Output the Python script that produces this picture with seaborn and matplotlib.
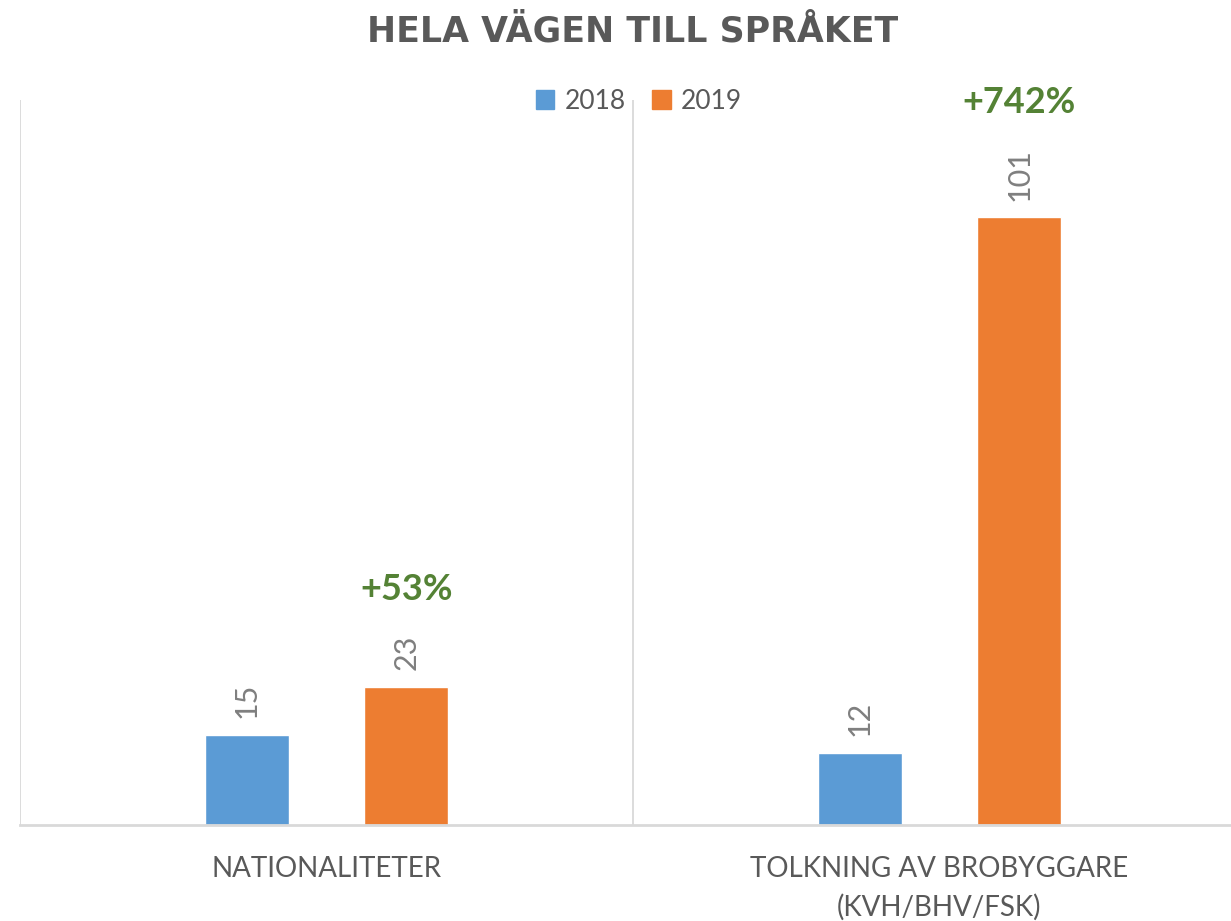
import matplotlib
matplotlib.use("Agg")
import matplotlib.pyplot as plt
import seaborn as sns
import pandas as pd

# 데이터
categories = ["NATIONALITETER", "TOLKNING AV BROBYGGARE\n(KVH/BHV/FSK)"]
years = ["2018", "2019"]
values_2018 = [15, 12]
values_2019 = [23, 101]

df = pd.DataFrame({
    "kategori": categories * 2,
    "år": [years[0]] * 2 + [years[1]] * 2,
    "antal": values_2018 + values_2019,
})

sns.set_theme(style="white")
plt.rcParams['font.family'] = ['Lato', 'DejaVu Sans']

fig = plt.figure(figsize=(12.31, 9.21), dpi=100)
ax = fig.add_axes([20 / 1231, 1 - 825 / 921, 1226 / 1231, 725 / 921])

sns.barplot(data=df, x="kategori", y="antal", hue="år", order=categories,
            hue_order=years, palette=["#5b9bd5", "#ed7d31"], saturation=1,
            width=0.52, gap=0.47, ax=ax, legend=False)

for cont in ax.containers:
    ax.bar_label(cont, rotation=90, padding=12, fontsize=22, color="#7f7f7f")

ax.set_xlim(-0.5, 1.5)
ax.set_ylim(0, 120.5)

# 증가율 (+53%, +742%) - 값 라벨 위에 배치
for i in range(len(categories)):
    v = values_2019[i]
    pct = (v - values_2018[i]) / values_2018[i] * 100
    off = 12 + 12.7 * len(str(v)) + 21
    ax.annotate(f"+{pct:.0f}%", xy=(i + 0.13, v), xytext=(0, off),
                textcoords="offset points", ha="center", va="bottom",
                fontsize=26, fontweight="bold", color="#548235", annotation_clip=False)

ax.set_yticks([])
ax.set_xticks([-0.5, 0.5, 1.5], minor=True)
ax.grid(True, axis="x", which="minor", color="#d9d9d9", linewidth=1.3)
ax.tick_params(axis="x", which="both", length=0, pad=22, labelsize=20, labelcolor="#595959")
for lab in ax.get_xticklabels():
    lab.set_linespacing(1.55)
for s in ["top", "right", "left"]:
    ax.spines[s].set_visible(False)
ax.spines["bottom"].set_color("#d9d9d9")
ax.spines["bottom"].set_linewidth(2)
ax.set_xlabel("")
ax.set_ylabel("")

handles = [plt.Rectangle((0, 0), 1, 1, color=c) for c in ["#5b9bd5", "#ed7d31"]]
fig.legend(handles, years, loc="center", bbox_to_anchor=(0.519, 1 - 101 / 921), ncol=2,
           frameon=False, fontsize=19, handlelength=0.7, handleheight=0.7,
           handletextpad=0.4, columnspacing=1.0, labelcolor="#595959")

fig.text(0.514, 1 - 32 / 921, "HELA VÄGEN TILL SPRÅKET", ha="center", va="center",
         fontsize=25, fontweight="bold", color="#595959", family=["DejaVu Sans"])

fig.savefig("out.png", dpi=100)
